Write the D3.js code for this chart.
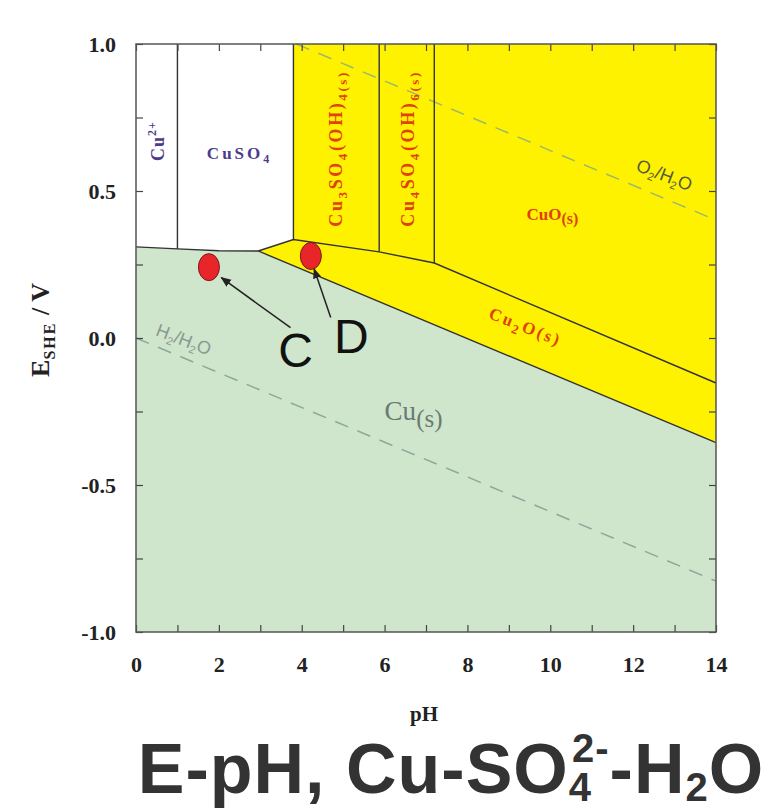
<!DOCTYPE html>
<html>
<head>
<meta charset="utf-8">
<script src="https://cdn.jsdelivr.net/npm/d3@7"></script>
<style>
  body { margin: 0; background: #fff; }
  svg { display: block; }
  .tick text { font-family: "Liberation Serif", serif; font-weight: bold; font-size: 22px; fill: #222; }
</style>
</head>
<body>
<svg width="770" height="810"></svg>
<script>
// axis ranges and ticks
var xTicks = [0, 2, 4, 6, 8, 10, 12, 14];
var yTicks = [-1.0, -0.5, 0.0, 0.5, 1.0];

// phase boundaries, [pH, E]
var cuBoundary = [[0, 0.31], [1, 0.303], [2, 0.297], [2.95, 0.296], [14, -0.356]];
var oxideBoundary = [[2.95, 0.296], [3.8, 0.335], [5.87, 0.293], [7.2, 0.255], [14, -0.153]];
var verticals = [[1.0, 0.303], [3.8, 0.335], [5.87, 0.293], [7.2, 0.255]];

// water lines
var o2Line = [[3.87, 1.0], [14, 0.401]];
var h2Line = [[0, 0.0], [14, -0.827]];

// marked points
var points = [
  { name: "C", ph: 1.76, e: 0.241 },
  { name: "D", ph: 4.22, e: 0.279 }
];

var svg = d3.select("svg");
var pLeft = 136, pRight = 716, pTop = 44, pBottom = 632;

var x = d3.scaleLinear().domain([0, 14]).range([pLeft, pRight]);
var y = d3.scaleLinear().domain([-1, 1]).range([pBottom, pTop]);

var line = d3.line().x(function (d) { return x(d[0]); }).y(function (d) { return y(d[1]); });

svg.append("defs").append("marker")
  .attr("id", "arr")
  .attr("viewBox", "0 0 10 10")
  .attr("refX", 9).attr("refY", 5)
  .attr("markerWidth", 7).attr("markerHeight", 7)
  .attr("orient", "auto")
  .append("path").attr("d", "M0,1 L10,5 L0,9 z").attr("fill", "#222");

// background white
svg.append("rect")
  .attr("x", pLeft).attr("y", pTop)
  .attr("width", pRight - pLeft).attr("height", pBottom - pTop)
  .attr("fill", "#fff");

// yellow oxide / sulphate region
var yellow = [[3.8, 1], [14, 1], [14, -0.356], [2.95, 0.296], [3.8, 0.335]];
svg.append("path")
  .attr("d", line(yellow) + "Z")
  .attr("fill", "#fff200");

// Cu(s) region
var green = cuBoundary.concat([[14, -1], [0, -1]]);
svg.append("path")
  .attr("d", line(green) + "Z")
  .attr("fill", "#cfe5cc");

// dashed water lines
svg.append("path").attr("d", line(o2Line))
  .attr("fill", "none").attr("stroke", "#9cb86a").attr("stroke-width", 1.5)
  .attr("stroke-dasharray", "14,10");
svg.append("path").attr("d", line(h2Line))
  .attr("fill", "none").attr("stroke", "#8ea79a").attr("stroke-width", 1.5)
  .attr("stroke-dasharray", "14,10");

// boundary lines
var bl = svg.append("g").attr("fill", "none").attr("stroke", "#333").attr("stroke-width", 1.4);
bl.append("path").attr("d", line(cuBoundary));
bl.append("path").attr("d", line(oxideBoundary));
verticals.forEach(function (v) {
  bl.append("path").attr("d", line([[v[0], 1], [v[0], v[1]]]));
});

// axes, ticks inward
svg.append("g").attr("transform", "translate(0," + pBottom + ")")
  .call(d3.axisBottom(x).tickValues(d3.range(0, 15, 1)).tickSize(-7).tickFormat(""));
svg.append("g").attr("transform", "translate(0," + pTop + ")")
  .call(d3.axisTop(x).tickValues(d3.range(0, 15, 1)).tickSize(-7).tickFormat(""));
svg.append("g").attr("transform", "translate(" + pLeft + ",0)")
  .call(d3.axisLeft(y).tickValues(d3.range(-1, 1.01, 0.25)).tickSize(-7).tickFormat(""));
svg.append("g").attr("transform", "translate(" + pRight + ",0)")
  .call(d3.axisRight(y).tickValues(d3.range(-1, 1.01, 0.25)).tickSize(-7).tickFormat(""));
svg.selectAll(".domain").remove();
svg.selectAll(".tick line").attr("stroke", "#444").attr("stroke-width", 1.2);

// tick labels
svg.append("g").attr("transform", "translate(0," + (pBottom + 21) + ")")
  .call(d3.axisBottom(x).tickValues(xTicks).tickSize(0).tickFormat(d3.format("d")))
  .call(function (g) { g.select(".domain").remove(); });
svg.append("g").attr("transform", "translate(" + (pLeft - 17) + ",0)")
  .call(d3.axisLeft(y).tickValues(yTicks).tickSize(0)
    .tickFormat(function (d) { return d3.format(".1f")(d).replace("\u2212", "-"); }))
  .call(function (g) { g.select(".domain").remove(); });

// frame
svg.append("rect")
  .attr("x", pLeft).attr("y", pTop)
  .attr("width", pRight - pLeft).attr("height", pBottom - pTop)
  .attr("fill", "none").attr("stroke", "#555").attr("stroke-width", 1.5);

// axis titles
svg.append("text")
  .attr("x", (pLeft + pRight) / 2 - 2).attr("y", 721)
  .attr("text-anchor", "middle").attr("fill", "#222")
  .style("font-family", "Liberation Serif").style("font-weight", "bold").style("font-size", "21px")
  .text("pH");

var yl = svg.append("text")
  .attr("transform", "translate(49," + (y(0) - 8) + ") rotate(-90)")
  .attr("text-anchor", "middle")
  .style("font-family", "Liberation Serif").style("font-weight", "bold").style("font-size", "26px").attr("fill", "#222");
yl.append("tspan").text("E");
yl.append("tspan").attr("dy", 6).style("font-size", "16px").style("letter-spacing", "2px").text("SHE");
yl.append("tspan").attr("dy", -6).text(" / V");

// region labels
var serifBold = function (t) {
  return t.style("font-family", "Liberation Serif").style("font-weight", "bold");
};

var cu2 = serifBold(svg.append("text"))
  .attr("transform", "translate(" + (x(0.5) + 7) + "," + y(0.67) + ") rotate(-90)")
  .attr("text-anchor", "middle").attr("fill", "#4b3b8c").style("font-size", "18px").style("letter-spacing", "1px");
cu2.append("tspan").text("Cu");
cu2.append("tspan").attr("dy", -8).style("font-size", "12px").text("2+");

var cuso4 = serifBold(svg.append("text"))
  .attr("x", x(2.5)).attr("y", y(0.61))
  .attr("text-anchor", "middle").attr("fill", "#4b3b8c").style("font-size", "17px").style("letter-spacing", "3px");
cuso4.append("tspan").text("CuSO");
cuso4.append("tspan").attr("dy", 4).style("font-size", "12px").text("4");

function vertLabel(ph, sub1, sub2) {
  var t = serifBold(svg.append("text"))
    .attr("transform", "translate(" + (x(ph) + 7) + "," + y(0.645) + ") rotate(-90)")
    .attr("text-anchor", "middle").attr("fill", "#e0420c").style("font-size", "18px").style("letter-spacing", "2.6px");
  t.append("tspan").text("Cu");
  t.append("tspan").attr("dy", 5).style("font-size", "13px").text(sub1);
  t.append("tspan").attr("dy", -5).text("SO");
  t.append("tspan").attr("dy", 5).style("font-size", "13px").text("4");
  t.append("tspan").attr("dy", -5).text("(OH)");
  t.append("tspan").attr("dy", 5).style("font-size", "13px").text(sub2 + "(s)");
}
vertLabel(4.8, "3", "4");
vertLabel(6.53, "4", "6");

var cuo = serifBold(svg.append("text"))
  .attr("x", x(10.05)).attr("y", y(0.4))
  .attr("text-anchor", "middle").attr("fill", "#e0420c").style("font-size", "17px");
cuo.append("tspan").text("CuO");
cuo.append("tspan").attr("dy", 4).style("font-size", "16px").text("(s)");

var cu2o = serifBold(svg.append("text"))
  .attr("transform", "translate(" + x(9.35) + "," + y(0.02) + ") rotate(22)")
  .attr("text-anchor", "middle").attr("fill", "#e0420c").style("font-size", "17px").style("letter-spacing", "2.5px");
cu2o.append("tspan").text("Cu");
cu2o.append("tspan").attr("dy", 5).style("font-size", "13px").text("2");
cu2o.append("tspan").attr("dy", -5).text("O(s)");

var cus = svg.append("text")
  .attr("x", x(6.7)).attr("y", y(-0.28))
  .attr("text-anchor", "middle").attr("fill", "#6a7a72")
  .style("font-family", "Liberation Serif").style("font-size", "27px");
cus.append("tspan").text("Cu");
cus.append("tspan").attr("dy", 7).style("font-size", "25px").text("(s)");

function waterLabel(ph, e, rot, col, a) {
  var t = svg.append("text")
    .attr("transform", "translate(" + x(ph) + "," + y(e) + ") rotate(" + rot + ")")
    .attr("text-anchor", "middle").attr("fill", col)
    .style("font-family", "Liberation Sans").style("font-size", "18px");
  t.append("tspan").text(a);
  t.append("tspan").attr("dy", 4).style("font-size", "11px").text("2");
  t.append("tspan").attr("dy", -4).text("/H");
  t.append("tspan").attr("dy", 4).style("font-size", "11px").text("2");
  t.append("tspan").attr("dy", -4).text("O");
}
waterLabel(12.7, 0.535, 21, "#555a40", "O");
waterLabel(1.1, -0.025, 21, "#8b9990", "H");

// points C and D
points.forEach(function (p) {
  svg.append("ellipse")
    .attr("cx", x(p.ph)).attr("cy", y(p.e))
    .attr("rx", 10.5).attr("ry", 13.5)
    .attr("fill", "#e8262a").attr("stroke", "#7a1a1a").attr("stroke-width", 1);
});
svg.append("path")
  .attr("d", line([[3.73, 0.035], [2.06, 0.205]]))
  .attr("stroke", "#222").attr("stroke-width", 1.5).attr("marker-end", "url(#arr)");
svg.append("path")
  .attr("d", line([[4.7, 0.07], [4.3, 0.235]]))
  .attr("stroke", "#222").attr("stroke-width", 1.5).attr("marker-end", "url(#arr)");
svg.append("text").attr("x", x(3.85)).attr("y", y(-0.1))
  .attr("text-anchor", "middle").attr("fill", "#111")
  .style("font-family", "Liberation Sans").style("font-size", "48px").text("C");
svg.append("text").attr("x", x(5.2)).attr("y", y(-0.05))
  .attr("text-anchor", "middle").attr("fill", "#111")
  .style("font-family", "Liberation Sans").style("font-size", "48px").text("D");

// big caption
var title = svg.append("text")
  .attr("x", 451).attr("y", 793)
  .attr("text-anchor", "middle").attr("fill", "#333")
  .style("font-family", "Liberation Sans").style("font-weight", "bold").style("font-size", "70px")
  .style("letter-spacing", "1px");
title.append("tspan").text("E-pH, Cu-SO");
title.append("tspan").attr("dy", 8).style("font-size", "40px").text("4");
title.append("tspan").attr("dx", -20).attr("dy", -39).style("font-size", "40px").text("2-");
title.append("tspan").attr("dy", 31).text("-H");
title.append("tspan").attr("dy", 8).style("font-size", "40px").text("2");
title.append("tspan").attr("dy", -8).text("O");
</script>
</body>
</html>
